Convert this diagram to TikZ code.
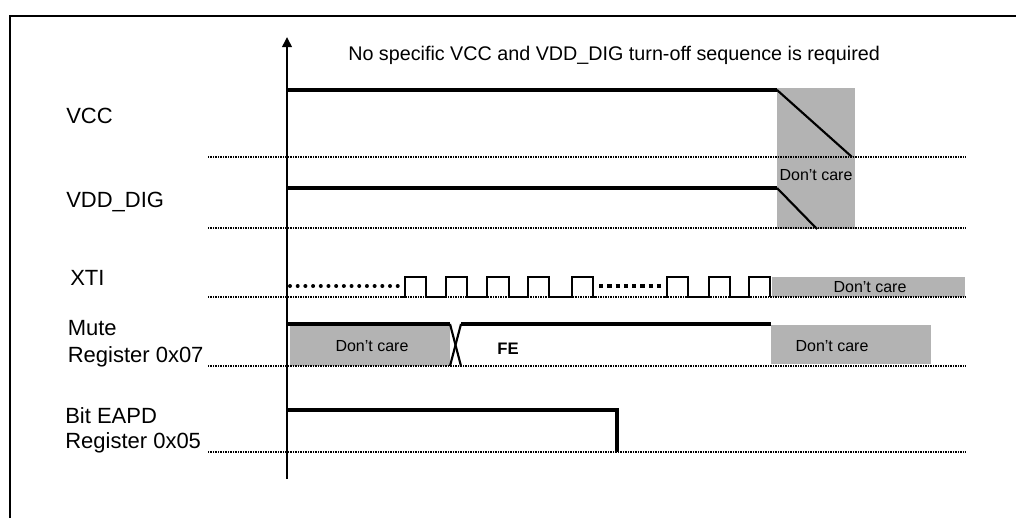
\documentclass[tikz,border=0pt]{standalone}
\usepackage{fontspec}
\setmainfont{Liberation Sans}
\usetikzlibrary{arrows.meta}
\definecolor{carefill}{RGB}{179,179,179}
\tikzset{
  sig/.style={line width=2.3pt},
  slope/.style={line width=1.6pt},
  clk/.style={line width=1.8pt},
  levelline/.style={line width=1.5pt, dash pattern={on 0.8pt off 0.45pt}},
  lbl/.style={anchor=base west, inner sep=0pt, font=\fontsize{16.5}{19}\selectfont},
  caretext/.style={inner sep=0pt, font=\fontsize{12}{14}\selectfont}
}
\begin{document}
\begin{tikzpicture}[x=0.75pt,y=0.75pt,yscale=-1,xscale=1]
\useasboundingbox (0,0) rectangle (1016,518);

%Frame
\draw [line width=1.7pt] (10,518) -- (10,16) -- (1016,16) ;

%Shape: Rectangle (don't care areas)
\fill [carefill] (777,88) rectangle (855,229) ;
\fill [carefill] (772,277) rectangle (965,297) ;
\fill [carefill] (290,325) rectangle (450,366) ;
\fill [carefill] (771,325) rectangle (931,364) ;

%Dotted Lines (signal levels)
\draw [levelline] (208,157) -- (965,157) ;
\draw [levelline] (208,228) -- (965,228) ;
\draw [levelline] (208,297) -- (965,297) ;
\draw [levelline] (208,366) -- (965,366) ;
\draw [levelline] (208,452) -- (965,452) ;

%Straight Lines (time axis)
\draw [line width=2.1pt, -{Triangle[width=7pt,length=7.5pt]}] (287,479) -- (287,37) ;

%VCC
\draw [sig] (287,90) -- (777,90) ;
\draw [slope] (777,90) -- (852,157) ;
%VDD_DIG
\draw [sig] (287,188) -- (777,188) ;
\draw [slope] (777,188) -- (817,229) ;

%XTI
\draw [line width=3pt, line cap=round, dash pattern={on 0pt off 5.77pt}] (290,286) -- (398,286) ;
\draw [clk] (400,297) -- (405,297) -- (405,277) -- (426,277) -- (426,297) -- (446,297) -- (446,277) -- (467,277) -- (467,297)
  -- (487,297) -- (487,277) -- (509,277) -- (509,297) -- (528,297) -- (528,277) -- (549,277) -- (549,297)
  -- (572,297) -- (572,277) -- (593,277) -- (593,297) -- (597,297) ;
\draw [line width=2.7pt, dash pattern={on 3.2pt off 3pt}] (599,286) -- (662,286) ;
\draw [clk] (664,297) -- (667,297) -- (667,277) -- (688,277) -- (688,297) -- (709,297) -- (709,277) -- (730,277) -- (730,297)
  -- (749,297) -- (749,277) -- (770,277) -- (770,297) ;

%Mute Register 0x07
\draw [sig] (287,324) -- (450,324) ;
\draw [slope] (450,324) -- (461,366) ;
\draw [slope] (450,366) -- (461,324) ;
\draw [sig] (461,324) -- (771,324) ;

%Bit EAPD Register 0x05
\draw [sig] (287,410) -- (617,410) -- (617,452) ;

% Text Node
\node (note) [anchor=base west, inner sep=0pt, font=\fontsize{14.8}{17}\selectfont] at (348,60) {No specific VCC and VDD\_DIG turn-off sequence is required};
% Text Node
\node (vcc) [lbl] at (66,123) {VCC};
% Text Node
\node (vdd) [lbl] at (66,207) {VDD\_DIG};
% Text Node
\node (xti) [lbl] at (70,285) {XTI};
% Text Node
\node (mute) [lbl] at (67.5,335) {Mute};
\node (mutereg) [lbl] at (67.5,362) {Register 0x07};
% Text Node
\node (eapd) [lbl] at (65,423) {Bit EAPD};
\node (eapdreg) [lbl] at (65,448) {Register 0x05};
% Text Node
\node (care1) [caretext] at (816,175) {Don’t care};
\node (care2) [caretext] at (870,287) {Don’t care};
\node (care3) [caretext] at (372,346) {Don’t care};
\node (care4) [caretext] at (832,346) {Don’t care};
% Text Node
\node (fe) [caretext, font=\bfseries\fontsize{12.5}{14}\selectfont] at (508,349) {FE};

\end{tikzpicture}
\end{document}
